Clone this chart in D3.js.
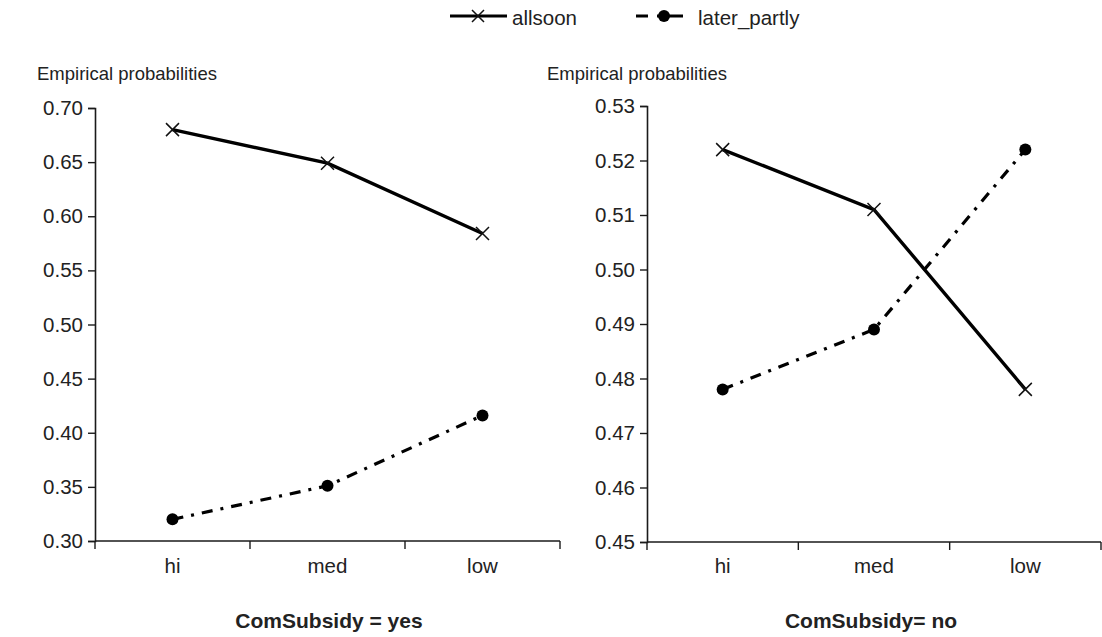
<!DOCTYPE html>
<html>
<head>
<meta charset="utf-8">
<script src="https://cdn.jsdelivr.net/npm/d3@7/dist/d3.min.js"></script>
<style>
  body { margin: 0; background: #fff; }
  svg { display: block; }
  text { font-family: "Liberation Sans", Arial, Helvetica, sans-serif; fill: #222; }
</style>
</head>
<body>
<svg id="chart" width="1102" height="637"></svg>
<script>
// ---- data ----
const categories = ["hi", "med", "low"];
const seriesNames = ["allsoon", "later_partly"];
const yesAllsoon = [0.680, 0.649, 0.584];
const yesLater = [0.320, 0.351, 0.416];
const noAllsoon = [0.522, 0.511, 0.478];
const noLater = [0.478, 0.489, 0.522];
const yesTicks = [0.30, 0.35, 0.40, 0.45, 0.50, 0.55, 0.60, 0.65, 0.70];
const noTicks = [0.45, 0.46, 0.47, 0.48, 0.49, 0.50, 0.51, 0.52, 0.53];
const panelTitles = ["ComSubsidy = yes", "ComSubsidy= no"];
const yLabel = "Empirical probabilities";

const svg = d3.select("#chart");
const ink = "#1a1a1a";

const panels = [
  { title: panelTitles[0], allsoon: yesAllsoon, later: yesLater, ticks: yesTicks,
    xr: [95, 560], yr: [541, 108], labelX: 37, titleX: 329 },
  { title: panelTitles[1], allsoon: noAllsoon, later: noLater, ticks: noTicks,
    xr: [647, 1101], yr: [542, 106], labelX: 547, titleX: 871 }
];

function crossPath(s) {
  return `M${-s},${-s}L${s},${s}M${-s},${s}L${s},${-s}`;
}

panels.forEach(p => {
  const x = d3.scaleBand().domain(categories).range(p.xr);
  const y = d3.scaleLinear().domain([p.ticks[0], p.ticks[p.ticks.length - 1]]).range(p.yr);
  const g = svg.append("g");

  // y axis
  const yAxis = g.append("g")
    .attr("transform", `translate(${p.xr[0]},0)`)
    .call(d3.axisLeft(y).tickValues(p.ticks).tickFormat(d3.format(".2f")).tickSize(7).tickPadding(5));
  yAxis.select(".domain").attr("stroke", ink).attr("stroke-width", 1.6);
  yAxis.selectAll(".tick line").attr("stroke", ink).attr("stroke-width", 1.4);
  yAxis.selectAll(".tick text").style("font-size", "20.5px").attr("fill", "#222")
    .style("font-family", '"Liberation Sans", Arial, sans-serif');

  // x axis: baseline + boundary ticks + labels at band centers
  const x0 = p.yr[0];
  g.append("line").attr("x1", p.xr[0]).attr("x2", p.xr[1]).attr("y1", x0).attr("y2", x0)
    .attr("stroke", ink).attr("stroke-width", 1.6);
  const bounds = categories.map(c => x(c)).concat([x(categories[categories.length - 1]) + x.bandwidth()]);
  g.selectAll(".xt").data(bounds).join("line")
    .attr("x1", d => d).attr("x2", d => d).attr("y1", x0).attr("y2", x0 + 8)
    .attr("stroke", ink).attr("stroke-width", 1.4);
  g.selectAll(".xl").data(categories).join("text")
    .attr("x", d => x(d) + x.bandwidth() / 2).attr("y", 573)
    .attr("text-anchor", "middle").style("font-size", "20.5px").text(d => d);

  // y label
  g.append("text").attr("x", p.labelX).attr("y", 80).style("font-size", "18.5px").text(yLabel);

  // panel title
  g.append("text").attr("x", p.titleX).attr("y", 628).attr("text-anchor", "middle")
    .style("font-size", "21px").style("font-weight", "bold").text(p.title);

  const cx = d => x(d) + x.bandwidth() / 2;
  const line = d3.line().x(d => cx(d[0])).y(d => y(d[1]));
  const aData = categories.map((c, i) => [c, p.allsoon[i]]);
  const lData = categories.map((c, i) => [c, p.later[i]]);

  g.append("path").datum(lData).attr("d", line).attr("fill", "none")
    .attr("stroke", "#000").attr("stroke-width", 3.2).attr("stroke-dasharray", "11,8,3,8");
  g.selectAll(".dot").data(lData).join("circle")
    .attr("cx", d => cx(d[0])).attr("cy", d => y(d[1])).attr("r", 6).attr("fill", "#000");

  g.append("path").datum(aData).attr("d", line).attr("fill", "none")
    .attr("stroke", "#000").attr("stroke-width", 3.4);
  g.selectAll(".cross").data(aData).join("path")
    .attr("transform", d => `translate(${cx(d[0])},${y(d[1])})`)
    .attr("d", crossPath(6.5)).attr("stroke", "#111").attr("stroke-width", 1.5).attr("fill", "none");
});

// legend
const leg = svg.append("g");
leg.append("line").attr("x1", 450).attr("x2", 507).attr("y1", 16).attr("y2", 16)
  .attr("stroke", "#000").attr("stroke-width", 3.2);
leg.append("path").attr("transform", "translate(478,16)").attr("d", crossPath(6))
  .attr("stroke", "#111").attr("stroke-width", 1.5).attr("fill", "none");
leg.append("text").attr("x", 512).attr("y", 25).style("font-size", "20.5px").text(seriesNames[0]);

leg.append("line").attr("x1", 636).attr("x2", 683).attr("y1", 16).attr("y2", 16)
  .attr("stroke", "#000").attr("stroke-width", 3.2).attr("stroke-dasharray", "12,9,30");
leg.append("circle").attr("cx", 664).attr("cy", 16).attr("r", 6).attr("fill", "#000");
leg.append("text").attr("x", 698).attr("y", 25).style("font-size", "20.5px").text(seriesNames[1]);
</script>
</body>
</html>
